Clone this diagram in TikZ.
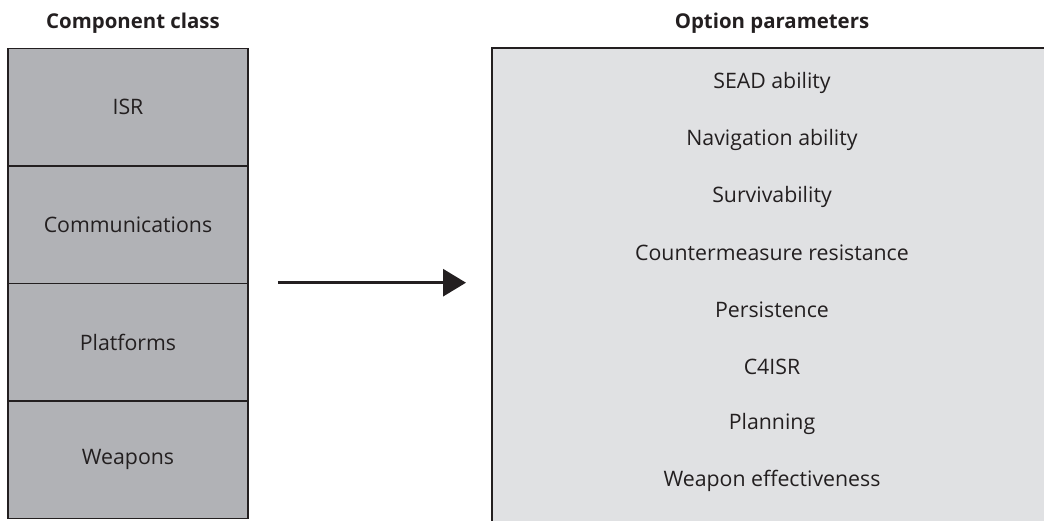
\documentclass[tikz,border=0pt]{standalone}
\usepackage{fontspec}
\setmainfont{Open Sans}
\usetikzlibrary{arrows.meta}
\definecolor{ink}{HTML}{231F20}
\definecolor{classgray}{HTML}{B1B2B6}
\definecolor{panelgray}{HTML}{E0E1E3}
\tikzset{
  classbox/.style={draw=ink, line width=1.6pt, fill=classgray, minimum width=240pt,
    minimum height=117.5pt, inner sep=0pt, text=ink, font=\fontsize{21.3}{25}\selectfont},
  header/.style={text=ink, font=\bfseries\fontsize{20.4}{24}\selectfont, anchor=base, inner sep=0pt},
  param/.style={text=ink, font=\fontsize{21.3}{25}\selectfont, inner sep=0pt},
  flow/.style={draw=ink, line width=3pt, -{Triangle[length=23pt,width=27pt]}},
}
\begin{document}
\begin{tikzpicture}[x=1pt, y=-1pt]
  \useasboundingbox (0,0) rectangle (1044,521);

  % headers
  \node[header] (hcls) at (133,29) {Component class};
  \node[header] (hopt) at (772,29) {Option parameters};

  % component class column
  \node[classbox] (isr)  at (128,107.25) {ISR};
  \node[classbox] (comm) at (128,224.75) {Communications};
  \node[classbox] (plat) at (128,342.25) {Platforms};
  \node[classbox] (weap) at (128,459.75) {Weapons};

  % option parameters panel (runs off the bottom and right edges)
  \node[fill=panelgray, inner sep=0pt, minimum width=560pt, minimum height=480pt,
        anchor=north west] (opts) at (492,48) {};
  \draw[ink, line width=1.6pt] (opts.south west) -- (opts.north west) -- (opts.north east);

  \node[param] (p1) at (772,83)  {SEAD ability};
  \node[param] (p2) at (772,140) {Navigation ability};
  \node[param] (p3) at (772,197) {Survivability};
  \node[param] (p4) at (772,253) {Countermeasure resistance};
  \node[param] (p5) at (772,310) {Persistence};
  \node[param] (p6) at (772,367) {C4ISR};
  \node[param] (p7) at (772,424) {Planning};
  \node[param] (p8) at (772,481) {Weapon effectiveness};

  % mapping arrow
  \draw[flow] ([xshift=29pt]plat.north east) -- ([xshift=-26pt]opts.west |- plat.north);
\end{tikzpicture}
\end{document}
